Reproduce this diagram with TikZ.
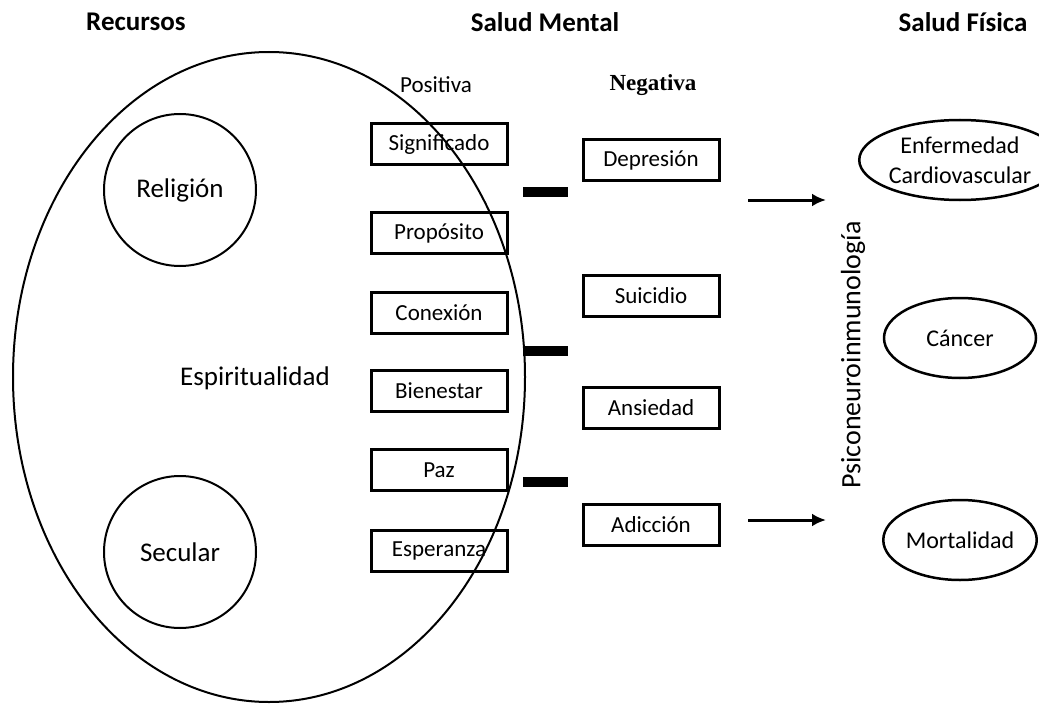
\documentclass[tikz,border=0pt]{standalone}
\usepackage{fontspec}
\setmainfont{Carlito}
\newfontfamily\serifbold{Liberation Serif}
\usetikzlibrary{arrows.meta,shapes.geometric}

\tikzset{
  header/.style={font=\fontsize{27}{30}\selectfont\bfseries, inner sep=0pt},
  bigtext/.style={font=\fontsize{27}{30}\selectfont, inner sep=0pt},
  boxtext/.style={font=\fontsize{23}{26}\selectfont},
  itembox/.style={draw, line width=3pt, minimum width=136pt, minimum height=41pt,
    inner sep=0pt, font=\fontsize{23}{26}\selectfont},
  outcome/.style={draw, ellipse, line width=2.5pt, minimum width=152pt, minimum height=80pt,
    inner sep=0pt, font=\fontsize{24}{30}\selectfont, align=center},
  ring/.style={draw, circle, line width=2pt, minimum size=152pt, inner sep=0pt,
    font=\fontsize{27}{30}\selectfont},
  bar/.style={line width=10pt},
  effect/.style={line width=3pt, -{Latex[length=14pt,width=13pt]}}
}

\begin{document}
\begin{tikzpicture}[x=1pt,y=-1pt]
\useasboundingbox (0,0) rectangle (1039,706);

% column headings
\node[header] (hRec) at (136,22) {Recursos};
\node[header] (hMen) at (545,22) {Salud Mental};
\node[header] (hFis) at (963,22) {Salud Física};

% resources
\draw[line width=2pt] (269,377) ellipse [x radius=256, y radius=325];
\node[ring] (rel) at (180,190) {Religión};
\node[ring] (sec) at (180,552) {Secular};
\node[bigtext] (esp) at (255,378) {Espiritualidad};

% mental health: positive and negative
\node[boxtext] (pos) at (436,85) {Positiva};
\node[font=\fontsize{23}{26}\serifbold\bfseries] (neg) at (653,85) {Negativa};

\node[itembox] (sig) at (439,144) {Significado};
\node[itembox] (pro) at (439,233) {Propósito};
\node[itembox] (con) at (439,313) {Conexión};
\node[itembox] (bie) at (439,391) {Bienestar};
\node[itembox] (paz) at (439,470) {Paz};
\node[itembox] (esa) at (439,551) {Esperanza};

\node[itembox] (dep) at (651,160) {Depresión};
\node[itembox] (sui) at (651,296) {Suicidio};
\node[itembox] (ans) at (651,408) {Ansiedad};
\node[itembox] (adi) at (651,525) {Adicción};

% minus signs between the columns
\coordinate (m1a) at (523,192); \coordinate (m1b) at (568,192);
\coordinate (m2a) at (523,351); \coordinate (m2b) at (568,351);
\coordinate (m3a) at (523,482); \coordinate (m3b) at (568,482);
\draw[bar] (m1a) -- (m1b);
\draw[bar] (m2a) -- (m2b);
\draw[bar] (m3a) -- (m3b);

% arrows towards physical health
\coordinate (a1s) at (748,200); \coordinate (a1e) at (826,200);
\coordinate (a2s) at (748,520); \coordinate (a2e) at (826,520);
\draw[effect] (a1s) -- (a1e);
\draw[effect] (a2s) -- (a2e);

\node[rotate=90, font=\fontsize{28}{30}\selectfont, inner sep=0pt] (pni) at (853,355) {Psiconeuroinmunología};

% physical health
\node[outcome] (car) at (960,160) {Enfermedad\\Cardiovascular};
\node[outcome] (can) at (960,338) {Cáncer};
\node[outcome] (mor) at (960,540) {Mortalidad};
\end{tikzpicture}
\end{document}
